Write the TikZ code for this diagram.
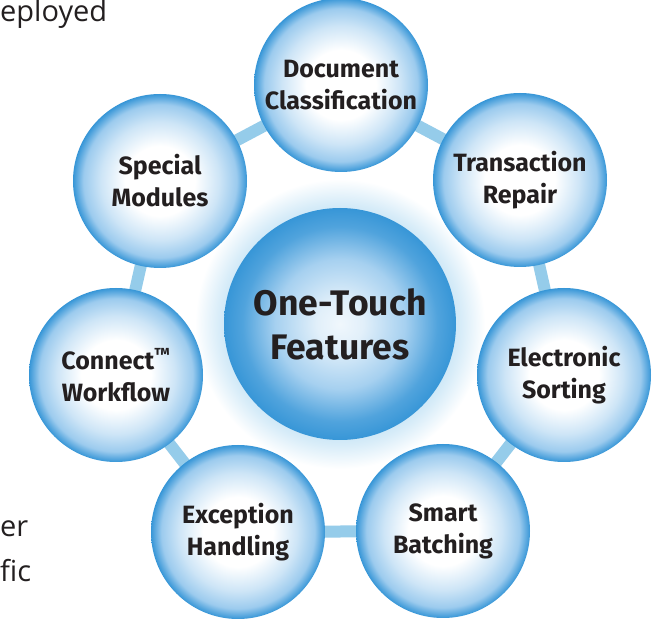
\documentclass[tikz,border=0pt]{standalone}
\usepackage{fontspec}
\setmainfont{Open Sans}
\newfontfamily\labelfont{Fira Sans}
\definecolor{rim}{HTML}{3796D7}
\definecolor{midb}{HTML}{9CCBEE}
\definecolor{ringc}{HTML}{95CCEA}
\definecolor{txt}{HTML}{231F20}
\definecolor{halo}{HTML}{C8E5F6}
\pgfdeclareradialshading{bubble}{\pgfpoint{0bp}{0bp}}{color(0bp)=(white); color(10bp)=(white); color(17bp)=(midb!50); color(22bp)=(midb); color(25bp)=(rim); color(50bp)=(rim)}
\pgfdeclareradialshading{centerbubble}{\pgfpoint{0bp}{0bp}}{color(0bp)=(white!85!midb); color(5bp)=(white!70!midb); color(14bp)=(midb!90); color(21bp)=(rim!75!midb); color(25bp)=(rim); color(50bp)=(rim)}
\pgfdeclareradialshading{haloshade}{\pgfpoint{0bp}{0bp}}{color(0bp)=(halo); color(19bp)=(halo); color(21bp)=(halo!70); color(25bp)=(white); color(50bp)=(white)}
\tikzset{
  feature/.style={circle, minimum size=174pt, inner sep=0pt, shading=bubble, align=center,
    font=\labelfont\bfseries\fontsize{25}{32}\selectfont, text=txt},
  hub/.style={circle, minimum size=232pt, inner sep=0pt, shading=centerbubble, align=center,
    font=\labelfont\bfseries\fontsize{35.5}{44}\selectfont, text=txt},
  glow/.style={circle, minimum size=290pt, inner sep=0pt, shading=haloshade},
  link/.style={ringc, line width=12pt},
  side/.style={font=\fontsize{29}{30}\selectfont, text=txt, inner sep=0pt, anchor=base west}
}
\begin{document}
\begin{tikzpicture}[x=1pt,y=-1pt]
\useasboundingbox[fill=white] (0,0) rectangle (657,620);
\node[side] (t1) at (0,22) {eployed};
\node[side] (t2) at (0,537) {er};
\node[side] (t3) at (0,582) {fic};
\node[glow] (g) at (340,324) {};
\coordinate (pdoc) at (341,85);
\coordinate (ptr) at (520,180);
\coordinate (pel) at (564,375);
\coordinate (psm) at (443,531);
\coordinate (pex) at (238,532);
\coordinate (pco) at (116,375);
\coordinate (psp) at (160,181);
\draw[link] (pdoc) -- (ptr) -- (pel) -- (psm) -- (pex) -- (pco) -- (psp) -- cycle;
\node[hub] (hub) at (340,324) {One-Touch\\Features};
\node[feature] (doc) at (pdoc) {Document\\Classification};
\node[feature] (tr) at (ptr) {Transaction\\Repair};
\node[feature] (el) at (pel) {Electronic\\Sorting};
\node[feature] (sm) at (psm) {Smart\\Batching};
\node[feature] (ex) at (pex) {Exception\\Handling};
\node[feature] (co) at (pco) {Connect\textsuperscript{™}\\Workflow};
\node[feature] (sp) at (psp) {Special\\Modules};
\end{tikzpicture}
\end{document}
